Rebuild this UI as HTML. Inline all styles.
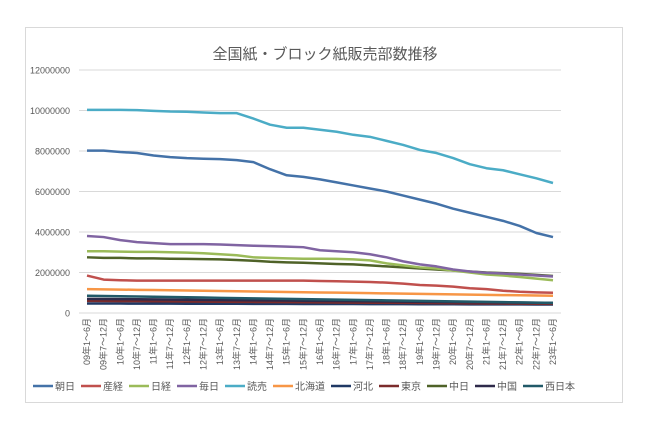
<!DOCTYPE html>
<html><head><meta charset="utf-8"><style>
body{margin:0;background:#fff;}
svg text{font-family:"Liberation Sans","Noto Sans CJK JP",sans-serif;}
</style></head><body>
<svg width="645" height="430" xmlns="http://www.w3.org/2000/svg" id="s">
<rect x="25.5" y="27.5" width="597" height="375" fill="#fff" stroke="#d9d9d9"/>
<text x="325" y="59" font-size="15" fill="#595959" text-anchor="middle">全国紙・ブロック紙販売部数推移</text>
<g id="grid"></g><g id="lines"></g><g id="xl"></g><g id="lg"></g>
</svg>
<script>
const NS="http://www.w3.org/2000/svg";
function el(t,a,p,txt){const e=document.createElementNS(NS,t);for(const k in a)e.setAttribute(k,a[k]);if(txt!==undefined)e.textContent=txt;document.getElementById(p).appendChild(e);return e;}
const Y=v=>313-v*20.25, X=i=>87+i*(466/28);
for(let k=0;k<=6;k++){const y=Y(k*2);el('line',{x1:79,x2:561,y1:y,y2:y,stroke:'#d9d9d9','stroke-width':1},'grid');
el('text',{x:70,y:y+3.5,'font-size':9,fill:'#595959','text-anchor':'end'},'grid',String(k*2000000));}
function lin(a,b){return Array.from({length:29},(_,i)=>a+(b-a)*i/28);}
const S=[
['朝日','#4472a8',[8.02,8.02,7.95,7.9,7.78,7.7,7.65,7.62,7.6,7.55,7.45,7.1,6.8,6.72,6.6,6.45,6.3,6.15,6.0,5.8,5.6,5.4,5.15,4.95,4.75,4.55,4.3,3.95,3.75]],
['産経','#c0504d',[1.85,1.65,1.62,1.6,1.6,1.6,1.6,1.6,1.6,1.6,1.6,1.6,1.6,1.6,1.58,1.57,1.55,1.53,1.5,1.45,1.38,1.35,1.3,1.22,1.18,1.1,1.05,1.02,1.0]],
['日経','#9bbb59',[3.05,3.05,3.03,3.02,3.02,3.0,2.98,2.95,2.9,2.85,2.75,2.72,2.7,2.68,2.68,2.67,2.65,2.6,2.45,2.35,2.25,2.2,2.1,2.0,1.9,1.85,1.78,1.7,1.62]],
['毎日','#8064a2',[3.8,3.75,3.6,3.5,3.45,3.4,3.4,3.4,3.38,3.35,3.32,3.3,3.28,3.25,3.1,3.05,3.0,2.9,2.75,2.55,2.4,2.3,2.15,2.05,1.98,1.95,1.9,1.85,1.8]],
['読売','#4bacc6',[10.03,10.03,10.03,10.02,9.98,9.95,9.94,9.9,9.87,9.87,9.6,9.3,9.15,9.15,9.05,8.95,8.8,8.7,8.5,8.3,8.05,7.9,7.65,7.35,7.15,7.05,6.85,6.65,6.42]],
['北海道','#f79646',lin(1.18,0.85)],
['河北','#1f3864',lin(0.47,0.42)],
['東京','#7b2b2b',lin(0.6,0.45)],
['中日','#4f6228',[2.75,2.72,2.72,2.7,2.7,2.68,2.67,2.66,2.65,2.62,2.58,2.53,2.5,2.48,2.45,2.42,2.4,2.35,2.3,2.25,2.2,2.15,2.1,2.05,2.0,1.97,1.93,1.88,1.83]],
['中国','#2e2a4a',lin(0.7,0.5)],
['西日本','#215968',lin(0.85,0.5)]];
[6,7,9,10,5,1,8,2,3,0,4].forEach(j=>{const s=S[j];el('polyline',{points:s[2].map((v,i)=>X(i)+','+Y(v)).join(' '),fill:'none',stroke:s[1],'stroke-width':2.5,'stroke-linejoin':'round'},'lines');});
for(let i=0;i<29;i++){const yr=String(9+Math.floor(i/2)).padStart(2,'0');const t=yr+'年'+(i%2?'7～12月':'1～6月');
el('text',{x:0,y:0,'font-size':9,fill:'#595959','text-anchor':'end',transform:`translate(${X(i)+3},318) rotate(-90)`},'xl',t);}
let lx=33;S.forEach(s=>{el('line',{x1:lx,x2:lx+20,y1:386,y2:386,stroke:s[1],'stroke-width':2.5},'lg');
const t=el('text',{x:lx+22,y:390,'font-size':10,fill:'#595959'},'lg',s[0]);lx+=22+s[0].length*10+6;});
</script>
</body></html>
